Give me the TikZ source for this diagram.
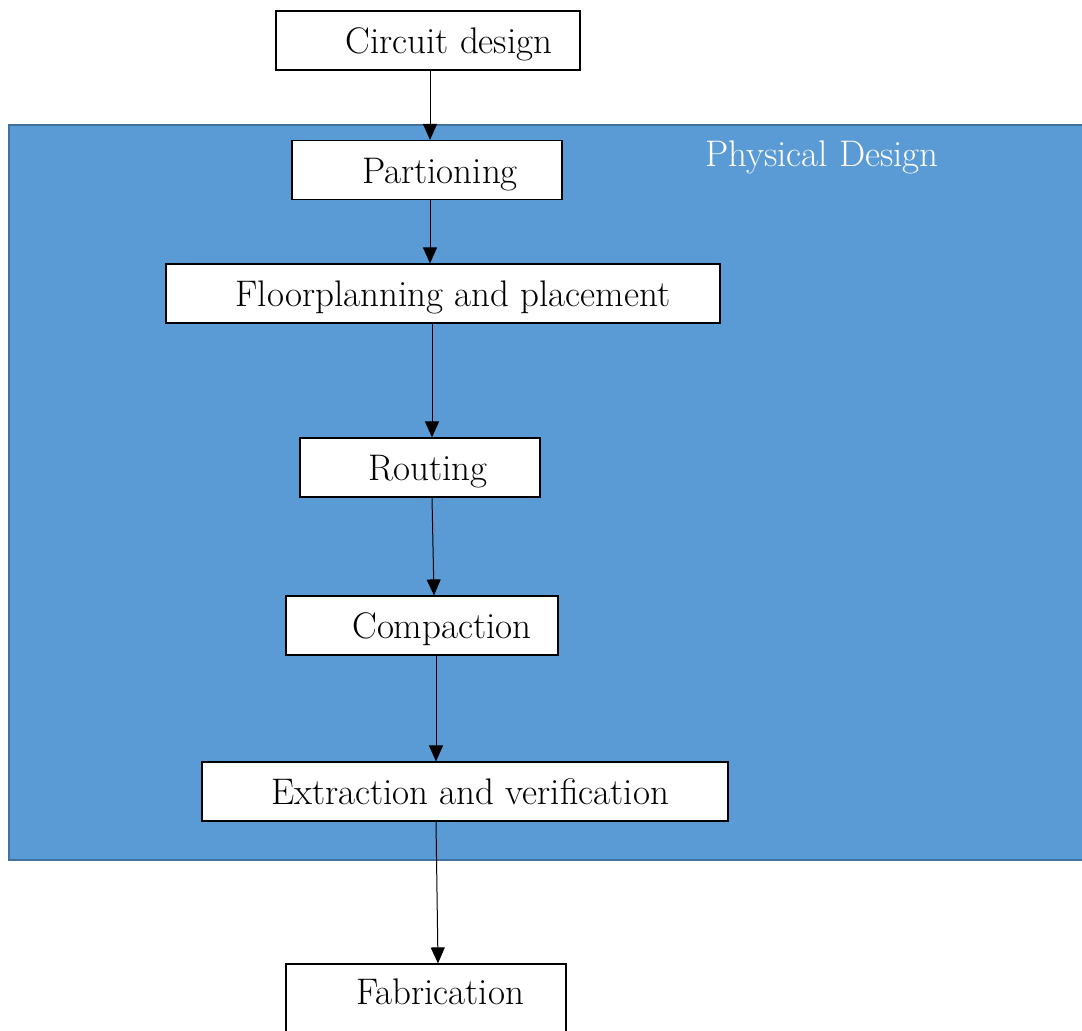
\documentclass[tikz,border=0pt]{standalone}
\usepackage{xcolor}
\usepackage{tikz}
\usetikzlibrary{arrows.meta, positioning, calc}

\definecolor{pdblue}{HTML}{5B9BD5}
\definecolor{pdedge}{HTML}{41719C}

\begin{document}
\begin{tikzpicture}[x=0.5pt, y=-0.5pt,
    stage/.style={draw=black, line width=0.6pt, fill=white, minimum height=29.5pt,
                  inner sep=0pt, text height=16.5pt, text depth=3.5pt,
                  font=\fontsize{18.5}{22}\selectfont},
    flow/.style={line width=0.5pt, -{Triangle[length=8pt, width=7pt]}}]
  % page frame = reference size (px)
  \clip (0,0) rectangle (1082,1030);
  \useasboundingbox (0,0) rectangle (1082,1030);
  % physical design region
  \filldraw[fill=pdblue, draw=pdedge, line width=1pt] (9,125) rectangle (1100,860);
  \node[font=\fontsize{18.5}{22}\selectfont, white] (pd) at (822,157) {Physical Design};
  % stages, text pushed right as in the source
  \node[stage, minimum width=152pt] (circ) at (428,40.5) {\hspace*{21pt}Circuit design};
  \node[stage, minimum width=135pt] (part) at (427,170) {\hspace*{13pt}Partioning};
  \node[stage, minimum width=277pt] (floor) at (443,293.5) {\hspace*{10pt}Floorplanning and placement};
  \node[stage, minimum width=120pt] (rout) at (420,467.5) {\hspace*{8pt}Routing};
  \node[stage, minimum width=136pt] (comp) at (422,625.5) {\hspace*{20pt}Compaction};
  \node[stage, minimum width=263pt] (extr) at (465,791.5) {\hspace*{5pt}Extraction and verification};
  \node[stage, minimum width=140pt, minimum height=40pt] (fab) at (426,1004) {\hspace*{14pt}\raisebox{6.5pt}{Fabrication}};
  % flow arrows
  \draw[flow] ([xshift=1pt]circ.south) -- ([xshift=1.5pt]part.north);
  \draw[flow] ([xshift=1.5pt]part.south) -- ([xshift=-6.5pt]floor.north);
  \draw[flow] ([xshift=-5.5pt]floor.south) -- ([xshift=6pt]rout.north);
  \draw[flow] ([xshift=6pt]rout.south) -- ([xshift=6pt]comp.north);
  \draw[flow] ([xshift=7pt]comp.south) -- ([xshift=-14.5pt]extr.north);
  \draw[flow] ([xshift=-14.5pt]extr.south) -- ([xshift=6pt]fab.north);
\end{tikzpicture}
\end{document}
